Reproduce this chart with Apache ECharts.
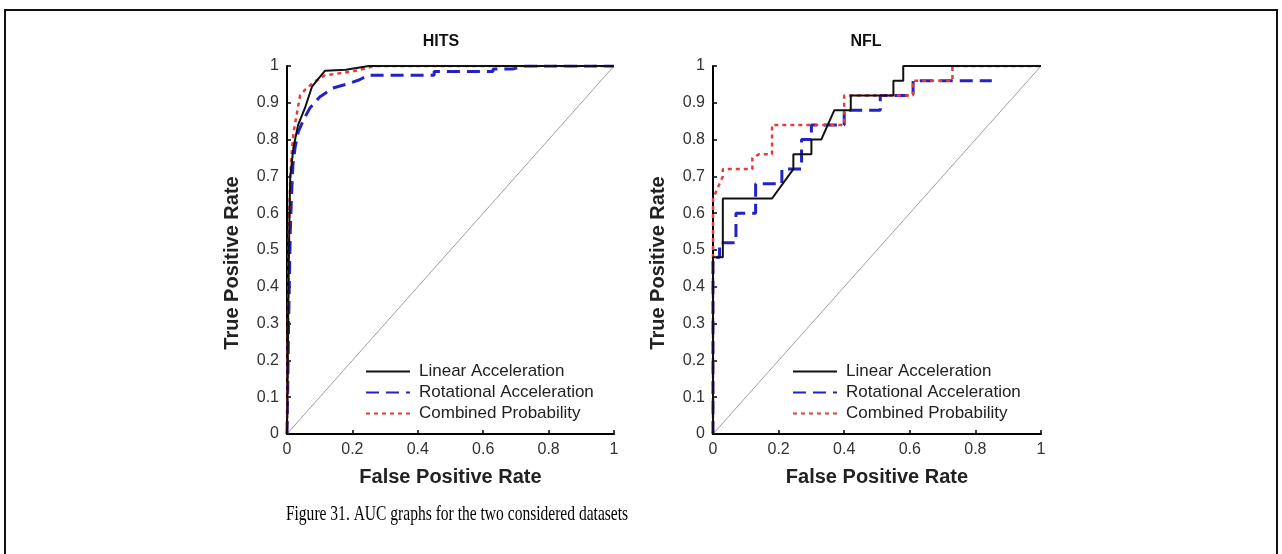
<!DOCTYPE html>
<html>
<head>
<meta charset="utf-8">
<script src="https://cdn.jsdelivr.net/npm/echarts@6/dist/echarts.min.js"></script>
<style>
html,body{margin:0;padding:0;background:#fff;}
#chart{width:1282px;height:554px;}
</style>
</head>
<body>
<div id="chart"></div>
<script>
// ---- data ----
const seriesNames = ['Linear Acceleration', 'Rotational Acceleration', 'Combined Probability'];
const xTicks = [0, 0.2, 0.4, 0.6, 0.8, 1];
const yTicks = [0, 0.1, 0.2, 0.3, 0.4, 0.5, 0.6, 0.7, 0.8, 0.9, 1];

// HITS
const hitsLinearFpr = [0, 0.002, 0.004, 0.006, 0.008, 0.01, 0.02, 0.034, 0.055, 0.076, 0.1, 0.116, 0.18, 0.25, 1];
const hitsLinearTpr = [0, 0.15, 0.35, 0.5, 0.62, 0.70, 0.78, 0.84, 0.886, 0.943, 0.97, 0.987, 0.99, 1, 1];
const hitsRotFpr = [0, 0.002, 0.004, 0.007, 0.01, 0.014, 0.018, 0.025, 0.034, 0.05, 0.07, 0.1, 0.14, 0.18, 0.22, 0.25, 0.45, 0.45, 0.63, 0.63, 0.69, 0.73, 1];
const hitsRotTpr = [0, 0.1, 0.25, 0.4, 0.55, 0.65, 0.73, 0.78, 0.82, 0.853, 0.886, 0.916, 0.94, 0.95, 0.962, 0.975, 0.975, 0.985, 0.985, 0.992, 0.992, 1, 1];
const hitsCombFpr = [0, 0.002, 0.004, 0.006, 0.01, 0.015, 0.02, 0.03, 0.04, 0.055, 0.08, 0.116, 0.16, 0.2, 0.27, 1];
const hitsCombTpr = [0, 0.2, 0.4, 0.55, 0.70, 0.77, 0.82, 0.87, 0.92, 0.935, 0.955, 0.975, 0.98, 0.985, 1, 1];

// NFL
const nflLinearFpr = [0, 0, 0.03, 0.03, 0.18, 0.245, 0.245, 0.30, 0.30, 0.33, 0.37, 0.42, 0.42, 0.55, 0.55, 0.58, 0.58, 1];
const nflLinearTpr = [0, 0.48, 0.48, 0.64, 0.64, 0.72, 0.76, 0.76, 0.80, 0.80, 0.88, 0.88, 0.92, 0.92, 0.96, 0.96, 1, 1];
const nflRotFpr = [0, 0, 0.02, 0.02, 0.07, 0.07, 0.13, 0.13, 0.21, 0.21, 0.27, 0.27, 0.30, 0.30, 0.40, 0.40, 0.51, 0.51, 0.61, 0.61, 0.85];
const nflRotTpr = [0, 0.48, 0.48, 0.52, 0.52, 0.60, 0.60, 0.68, 0.68, 0.72, 0.72, 0.80, 0.80, 0.84, 0.84, 0.88, 0.88, 0.92, 0.92, 0.96, 0.96];
const nflCombFpr = [0, 0, 0.01, 0.02, 0.03, 0.03, 0.12, 0.12, 0.14, 0.18, 0.18, 0.40, 0.40, 0.61, 0.61, 0.73, 0.73, 1];
const nflCombTpr = [0, 0.64, 0.66, 0.68, 0.70, 0.72, 0.72, 0.75, 0.76, 0.76, 0.84, 0.84, 0.92, 0.92, 0.96, 0.96, 1, 1];

const chanceFpr = [0, 1];
const chanceTpr = [0, 1];

// ---- build ----
const zip = (a, b) => a.map((v, i) => [v, b[i]]);
const SANS = 'Liberation Sans, Arial, sans-serif';
const colors = ['#111111', '#2323c4', '#e23c3c'];
const lineStyles = [
  { color: colors[0], width: 2, type: 'solid' },
  { color: colors[1], width: 3, type: [13, 7] },
  { color: colors[2], width: 2.5, type: [4, 4] }
];

function axisCommon(isX) {
  return {
    type: 'value', min: 0, max: 1, interval: isX ? 0.2 : 0.1,
    axisLine: { show: true, lineStyle: { color: '#000', width: 2 } },
    axisTick: { show: true, inside: true, length: 4, lineStyle: { color: '#000', width: 1.5 } },
    splitLine: { show: false },
    axisLabel: { color: '#333', fontFamily: SANS, fontSize: 16, margin: 8 },
    name: isX ? 'False Positive Rate' : 'True Positive Rate',
    nameLocation: 'middle',
    nameGap: isX ? 33 : 45,
    nameTextStyle: { color: '#222', fontFamily: SANS, fontSize: 20, fontWeight: 'bold', padding: isX ? 0 : [0, 26, 0, 0] }
  };
}

const panels = [
  { grid: { left: 287, top: 66, width: 327, height: 368 }, data: [[hitsLinearFpr, hitsLinearTpr], [hitsRotFpr, hitsRotTpr], [hitsCombFpr, hitsCombTpr]], legendLeft: 365 },
  { grid: { left: 713, top: 66, width: 328, height: 368 }, data: [[nflLinearFpr, nflLinearTpr], [nflRotFpr, nflRotTpr], [nflCombFpr, nflCombTpr]], legendLeft: 792 }
];

const series = [];
panels.forEach((p, pi) => {
  series.push({
    name: 'chance', type: 'line', xAxisIndex: pi, yAxisIndex: pi,
    data: zip(chanceFpr, chanceTpr), symbol: 'none', silent: true,
    lineStyle: { color: '#a0a0a0', width: 1 }, z: 1
  });
  p.data.forEach((d, si) => {
    series.push({
      name: seriesNames[si], type: 'line', xAxisIndex: pi, yAxisIndex: pi,
      data: zip(d[0], d[1]), symbol: 'none', showSymbol: false,
      itemStyle: { color: colors[si] },
      lineStyle: lineStyles[si], z: 3 + (si === 0 ? 2 : si === 2 ? 1 : 0)
    });
  });
});

const option = {
  animation: false,
  backgroundColor: '#fff',
  grid: panels.map(p => p.grid),
  xAxis: panels.map((p, i) => Object.assign(axisCommon(true), { gridIndex: i })),
  yAxis: panels.map((p, i) => Object.assign(axisCommon(false), { gridIndex: i })),
  legend: panels.map(p => ({
    data: seriesNames, orient: 'vertical', left: p.legendLeft, top: 361,
    padding: 0, itemGap: 0, itemWidth: 44, itemHeight: 21,
    itemStyle: { opacity: 0 },
    textStyle: { color: '#222', fontFamily: SANS, fontSize: 17, lineHeight: 21, padding: [0, 0, 0, 4] },
    selectedMode: false
  })),
  graphic: [
    { type: 'rect', shape: { x: 5, y: 10, width: 1272, height: 600 }, style: { fill: 'none', stroke: '#111', lineWidth: 2 }, silent: true },
    { type: 'text', x: 441, y: 42, style: { text: 'HITS', align: 'center', verticalAlign: 'middle', font: 'bold 16px ' + SANS, fill: '#111' } },
    { type: 'text', x: 866, y: 42, style: { text: 'NFL', align: 'center', verticalAlign: 'middle', font: 'bold 16px ' + SANS, fill: '#111' } },
    { type: 'text', x: 457, y: 514, scaleX: 0.74, originX: 0, originY: 0, style: { text: 'Figure 31. AUC graphs for the two considered datasets', align: 'center', verticalAlign: 'middle', font: '21px Liberation Serif, Times New Roman, serif', fill: '#000' } }
  ],
  series: series
};

const chart = echarts.init(document.getElementById('chart'), null, { renderer: 'canvas' });
chart.setOption(option);
</script>
</body>
</html>
